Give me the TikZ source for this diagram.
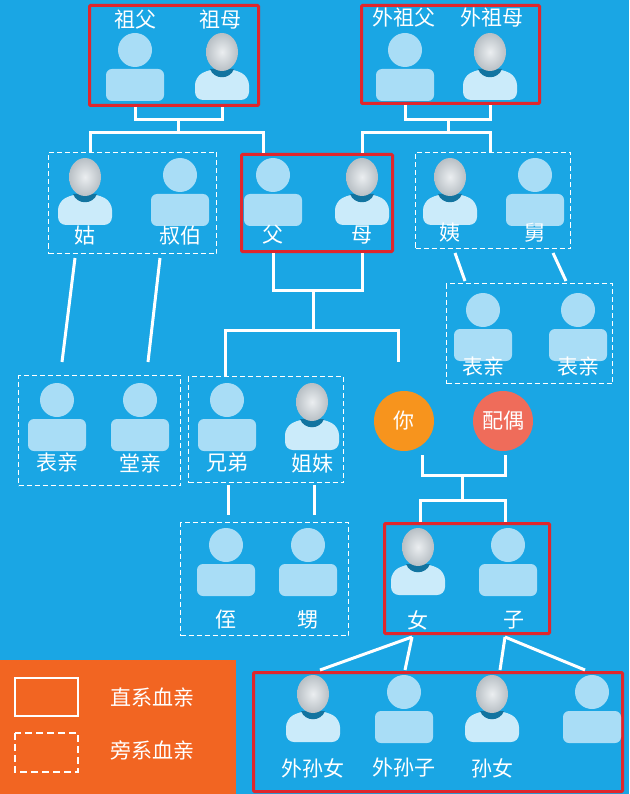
\documentclass[tikz,border=0pt]{standalone}
\usepackage{fontspec}
\newfontfamily\cjk{Noto Sans CJK SC}
\usetikzlibrary{calc, positioning}
\definecolor{bg}{HTML}{1AA6E4}
\definecolor{redbox}{HTML}{E0262C}
\definecolor{legend}{HTML}{F26522}
\definecolor{skin}{HTML}{A9DDF6}
\definecolor{grey}{HTML}{CDD5DB}
\definecolor{you}{HTML}{F7941D}
\definecolor{mate}{HTML}{EF6C5A}
\tikzset{
  direct/.style={draw=redbox, line width=3pt, rounded corners=1pt, anchor=north west, inner sep=0pt},
  side/.style={draw=white, dash pattern=on 5pt off 3pt, line width=1pt, anchor=north west, inner sep=0pt},
  link/.style={draw=white, line width=3pt},
  lbl/.style={text=white, font=\cjk\fontsize{21}{23}\selectfont},
  male/.pic={
    \fill[skin, rounded corners=6pt] (-29,39) -- (-29,7) -- (29,7) -- (29,39) -- cycle;
    \fill[skin] (0,-12) circle (17);
  },
  female/.pic={
    \fill[skin!60!white, rounded corners=8pt] (-27,38) -- (-27,15) -- (-12,7) -- (12,7) -- (27,15) -- (27,38) -- cycle;
    \fill[bg!70!black] (-12,7) .. controls (-8,18) and (8,18) .. (12,7) -- cycle;
    \shade[inner color=grey!40!white, outer color=grey!90!black] (0,-10) ellipse (16 and 19);
  }
}
\begin{document}
\begin{tikzpicture}[x=1pt, y=-1pt]
  \fill[bg] (0,0) rectangle (629,794);
  \useasboundingbox (0,0) rectangle (629,794);

  % boxes
  \node[direct, minimum width=169, minimum height=100] (gp) at (88,4) {};
  \node[direct, minimum width=178, minimum height=98] (mgp) at (360,4) {};
  \node[side, minimum width=168, minimum height=101] (aunt) at (48,152) {};
  \node[direct, minimum width=151, minimum height=97] (par) at (240,153) {};
  \node[side, minimum width=155, minimum height=96] (uncle) at (415,152) {};
  \node[side, minimum width=166, minimum height=100] (cous2) at (446,283) {};
  \node[side, minimum width=162, minimum height=110] (cous1) at (18,375) {};
  \node[side, minimum width=155, minimum height=106] (sib) at (188,376) {};
  \node[side, minimum width=168, minimum height=113] (neph) at (180,522) {};
  \node[direct, minimum width=165, minimum height=110] (kid) at (383,522) {};
  \node[direct, minimum width=369, minimum height=119] (grand) at (252,671) {};

  % people
  \pic at (135,62) {male};   \pic at (222,62) {female};
  \pic at (405,62) {male};   \pic at (490,62) {female};
  \pic at (85,187) {female}; \pic at (180,187) {male};
  \pic at (273,187) {male};  \pic at (362,187) {female};
  \pic at (450,187) {female};\pic at (535,187) {male};
  \pic at (483,322) {male};  \pic at (578,322) {male};
  \pic at (57,412) {male};   \pic at (140,412) {male};
  \pic at (227,412) {male};  \pic at (312,412) {female};
  \pic at (226,557) {male};  \pic at (308,557) {male};
  \pic at (418,557) {female};\pic at (508,557) {male};
  \pic at (313,704) {female};\pic at (404,704) {male};
  \pic at (492,704) {female};\pic at (592,704) {male};

  % labels
  \node[lbl] at (135,20) {祖父};   \node[lbl] at (220,20) {祖母};
  \node[lbl] at (404,18) {外祖父}; \node[lbl] at (492,18) {外祖母};
  \node[lbl] at (85,236) {姑};     \node[lbl] at (180,236) {叔伯};
  \node[lbl] at (273,235) {父};    \node[lbl] at (362,235) {母};
  \node[lbl] at (450,233) {姨};    \node[lbl] at (535,233) {舅};
  \node[lbl] at (483,367) {表亲};  \node[lbl] at (578,367) {表亲};
  \node[lbl] at (57,463) {表亲};   \node[lbl] at (140,463) {堂亲};
  \node[lbl] at (227,463) {兄弟};  \node[lbl] at (312,463) {姐妹};
  \node[lbl] at (226,620) {侄};    \node[lbl] at (308,620) {甥};
  \node[lbl] at (418,620) {女};    \node[lbl] at (514,620) {子};
  \node[lbl] at (313,768) {外孙女};\node[lbl] at (404,768) {外孙子};
  \node[lbl] at (492,768) {孙女};

  \node[circle, fill=you, minimum size=60, lbl] (me) at (404,421) {你};
  \node[circle, fill=mate, minimum size=60, lbl] (spouse) at (503,421) {配偶};

  % connectors
  \draw[link] (gp.south -| 135,0) |- (178,120) -| (gp.south -| 222,0);
  \draw[link] (178,120) -- (178,133);
  \draw[link] (aunt.north -| 90,0) |- (178,133) -| (par.north -| 263,0);
  \draw[link] (mgp.south -| 405,0) |- (448,120) -| (mgp.south -| 490,0);
  \draw[link] (448,120) -- (448,133);
  \draw[link] (par.north -| 362,0) |- (448,133) -| (uncle.north -| 490,0);
  \draw[link] (455,253) -- (465,281);
  \draw[link] (553,253) -- (566,281);
  \draw[link] (75,258) -- (62,362);
  \draw[link] (160,258) -- (148,362);
  \draw[link] (par.south -| 273,0) |- (313,290) -| (par.south -| 362,0);
  \draw[link] (313,290) -- (313,330);
  \draw[link] (sib.north -| 225,0) |- (313,330) -| (398,362);
  \draw[link] (228,485) -- (228,515);
  \draw[link] (314,485) -- (314,515);
  \draw[link] (422,455) |- (462,475) -| (505,455);
  \draw[link] (462,475) -- (462,500);
  \draw[link] (kid.north -| 420,0) |- (462,500) -| (kid.north -| 505,0);
  \draw[link] (412,637) -- (320,670);
  \draw[link] (412,637) -- (405,670);
  \draw[link] (505,637) -- (500,670);
  \draw[link] (505,637) -- (585,670);

  % legend
  \fill[legend] (0,660) rectangle (236,794);
  \draw[white, line width=2pt] (15,678) rectangle (78,716);
  \draw[white, line width=1.5pt, dash pattern=on 7pt off 4pt] (15,733) rectangle (78,772);
  \node[lbl] at (152,697) {直系血亲};
  \node[lbl] at (152,750) {旁系血亲};
\end{tikzpicture}
\end{document}
